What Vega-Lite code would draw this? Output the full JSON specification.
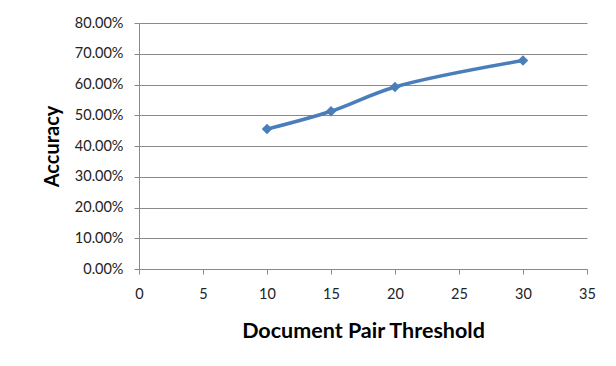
{
  "$schema": "https://vega.github.io/schema/vega-lite/v6.json",
  "autosize": {"type": "none"},
  "width": 448,
  "height": 246,
  "padding": {"left": 139, "top": 23, "right": 29, "bottom": 97},
  "background": "white",
  "config": {
    "view": {"stroke": null},
    "font": "Lato",
    "axis": {
      "gridColor": "#8a8a8a",
      "gridWidth": 1,
      "domainColor": "#8a8a8a",
      "tickColor": "#8a8a8a",
      "tickSize": 5,
      "labelFont": "Lato",
      "labelFontSize": 14.5,
      "labelColor": "#222222",
      "labelOverlap": false,
      "labelFlush": false,
      "labelBound": false,
      "titleFont": "Lato",
      "titleFontWeight": "bold",
      "titleColor": "#000000"
    }
  },
  "data": {
    "values": [
      {"threshold": 10, "accuracy": 0.455},
      {"threshold": 15, "accuracy": 0.513},
      {"threshold": 20, "accuracy": 0.592},
      {"threshold": 30, "accuracy": 0.678}
    ]
  },
  "encoding": {
    "x": {
      "field": "threshold", "type": "quantitative",
      "scale": {"domain": [0, 35], "nice": false},
      "axis": {"values": [0, 5, 10, 15, 20, 25, 30, 35], "grid": false, "labelPadding": 13, "title": "Document Pair Threshold", "titleFontSize": 21.5, "titlePadding": 20}
    },
    "y": {
      "field": "accuracy", "type": "quantitative",
      "scale": {"domain": [0, 0.8], "nice": false},
      "axis": {"values": [0, 0.1, 0.2, 0.3, 0.4, 0.5, 0.6, 0.7, 0.8], "format": ".2%", "labelPadding": 11, "title": "Accuracy", "titleFontSize": 20, "titlePadding": 12}
    }
  },
  "layer": [
    {
      "mark": {"type": "line", "color": "#4a7ebb", "strokeWidth": 3.5, "interpolate": "catmull-rom"}
    },
    {
      "mark": {"type": "point", "shape": "diamond", "filled": true, "color": "#4a7ebb", "size": 110, "opacity": 1}
    }
  ]
}
